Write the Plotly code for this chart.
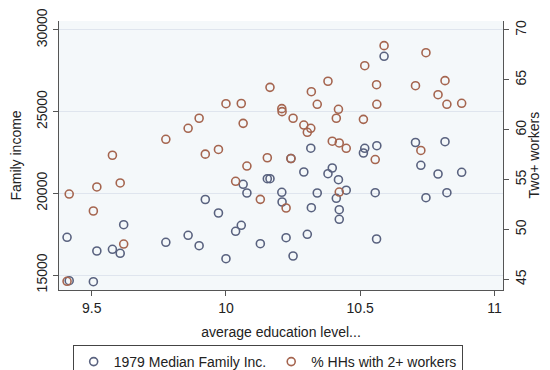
import plotly.graph_objects as go

# average education level (x) for each state
education = [9.408, 9.416, 9.506, 9.519, 9.577, 9.606, 9.619, 9.776, 9.859, 9.900,
             9.923, 9.972, 10.000, 10.036, 10.057, 10.064, 10.078, 10.128, 10.154, 10.164,
             10.208, 10.209, 10.224, 10.242, 10.250, 10.290, 10.303, 10.316, 10.318, 10.340,
             10.380, 10.396, 10.411, 10.419, 10.422, 10.422, 10.448, 10.512, 10.517, 10.556,
             10.561, 10.562, 10.589, 10.706, 10.726, 10.745, 10.790, 10.816, 10.823, 10.878]

# 1979 median family income
family_income = [17308, 14651, 14590, 16469, 16573, 16328, 18079, 17002, 17430, 16794,
                 19622, 18796, 15998, 17675, 18043, 20553, 20020, 16916, 20895, 20895,
                 20063, 19469, 17284, 22132, 16163, 21306, 17492, 22763, 19120, 20020,
                 21202, 21551, 19696, 20834, 18998, 18410, 20191, 22469, 22757, 20038,
                 17204, 22916, 28389, 23112, 21716, 19732, 21183, 23161, 20038, 21287]

# % households with 2+ workers
two_workers = [44.80, 53.55, 51.85, 54.26, 57.44, 54.66, 48.54, 59.04, 60.14, 61.15,
               57.55, 58.02, 62.61, 54.83, 62.63, 60.64, 56.36, 53.02, 57.19, 64.25,
               62.11, 61.81, 52.15, 57.11, 61.15, 60.47, 59.74, 60.14, 63.81, 62.55,
               64.86, 58.85, 61.15, 62.05, 53.75, 58.67, 58.14, 61.04, 66.42, 57.01,
               64.51, 62.55, 68.43, 64.41, 57.92, 67.72, 63.51, 64.92, 62.55, 62.65]

x_ticks = [9.5, 10, 10.5, 11]
x_ticktext = ["9.5", "10", "10.5", "11"]
inc_ticks = [15000, 20000, 25000, 30000]
inc_ticktext = ["15000", "20000", "25000", "30000"]
wrk_ticks = [45, 50, 55, 60, 65, 70]
wrk_ticktext = ["45", "50", "55", "60", "65", "70"]

FONT = "Liberation Sans, Arial, Helvetica, sans-serif"
TXT = "#222222"
AX = "#555555"
BLUE = "#59627f"
ORANGE = "#a5654f"

fig = go.Figure()
fig.add_trace(go.Scatter(
    x=education, y=family_income, mode="markers", name="1979 Median Family Inc.",
    marker=dict(symbol="circle-open", size=8, color=BLUE, line=dict(width=1.6, color=BLUE)),
    yaxis="y"))
fig.add_trace(go.Scatter(
    x=education, y=two_workers, mode="markers", name="% HHs with 2+ workers",
    marker=dict(symbol="circle-open", size=8, color=ORANGE, line=dict(width=1.6, color=ORANGE)),
    yaxis="y2"))

# page body has an 8px default margin, so the figure is 8px smaller on each axis
fig.update_layout(
    width=542, height=362,
    margin=dict(l=51, r=47, t=13, b=80, autoexpand=False),
    paper_bgcolor="white", plot_bgcolor="#f4f8fa",
    font=dict(family=FONT, size=14, color=TXT),
    showlegend=True,
    xaxis=dict(range=[9.378, 11.032], tickvals=x_ticks, ticktext=x_ticktext,
               ticks="outside", ticklen=5, tickcolor=AX, showline=True, linecolor=AX,
               linewidth=1, showgrid=False, zeroline=False, automargin=False,
               tickfont=dict(size=14), ticklabelstandoff=0,
               title=dict(text="average education level...", font=dict(size=14), standoff=12)),
    yaxis=dict(range=[14082, 30550], tickvals=inc_ticks, ticktext=inc_ticktext,
               tickangle=-90, ticks="outside", ticklen=5, tickcolor=AX,
               showline=True, linecolor=AX, linewidth=1, automargin=False,
               showgrid=True, gridcolor="#dfe5ee", gridwidth=1, zeroline=False,
               tickfont=dict(size=14),
               title=dict(text="Family income", font=dict(size=14), standoff=13)),
    yaxis2=dict(range=[43.93, 70.9], tickvals=wrk_ticks, ticktext=wrk_ticktext,
                overlaying="y", side="right", anchor="x", automargin=False,
                tickangle=-90, ticks="outside", ticklen=5, tickcolor=AX,
                showline=True, linecolor=AX, linewidth=1,
                showgrid=False, zeroline=False,
                tickfont=dict(size=14)),
    legend=dict(orientation="h", x=0.47, xanchor="center", y=-0.2045, yanchor="top",
                bordercolor="#444444", borderwidth=1, bgcolor="white",
                font=dict(size=14), itemwidth=30),
    annotations=[dict(text="Two+ workers", xref="paper", yref="paper", x=1, y=0.5,
                      xanchor="center", yanchor="middle", xshift=30, textangle=-90,
                      showarrow=False, font=dict(size=14, color=TXT))],
)

fig.write_html("out.html")
